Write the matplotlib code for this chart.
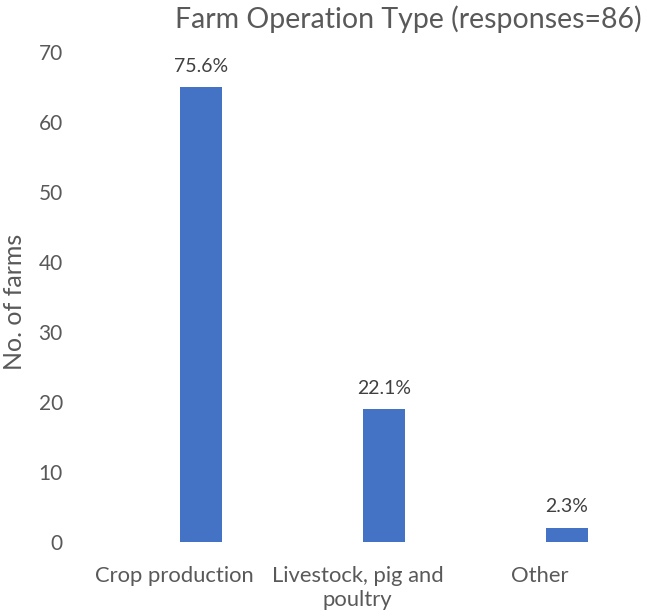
import numpy as np
import matplotlib.pyplot as plt

plt.rcParams['font.family'] = ['Lato', 'DejaVu Sans']

# data
categories = ['Crop production', 'Livestock, pig and\npoultry', 'Other']
farms = [65, 19, 2]
pct_labels = ['75.6%', '22.1%', '2.3%']

bar_color = '#4472C4'
text_color = '#595959'

fig = plt.figure(figsize=(6.47, 6.16), dpi=100)
ax = fig.add_axes([110 / 647, 74 / 616, 548 / 647, 490 / 616])

x = np.arange(len(categories))
bars = ax.bar(x, farms, width=0.23, color=bar_color)

for b, lab in zip(bars, pct_labels):
    ax.annotate(lab, (b.get_x() + b.get_width() / 2, b.get_height()),
                xytext=(0, 9), textcoords='offset points',
                ha='center', va='bottom', fontsize=14, color='#404040')

ax.set_xlim(-0.5, 2.5)
ax.set_ylim(0, 70)
ax.set_yticks(range(0, 71, 10))
# category labels sit a bit left of the bars (like the excel original)
ax.set_xticks(x - 0.145)
ax.set_xticklabels(categories, fontsize=15.8, color=text_color, linespacing=1.3)
ax.tick_params(axis='y', labelsize=15, labelcolor=text_color, length=0, pad=34)
ax.tick_params(axis='x', length=0, pad=17)
for s in ax.spines.values():
    s.set_visible(False)

fig.text(15 / 647, 1 - 302 / 616, 'No. of farms', rotation=90,
         ha='center', va='center', fontsize=18, color=text_color)
fig.text(408 / 647, 1 - 19 / 616, 'Farm Operation Type (responses=86)',
         ha='center', va='center', fontsize=20.5, color=text_color)

fig.savefig('out.png', dpi=100)
